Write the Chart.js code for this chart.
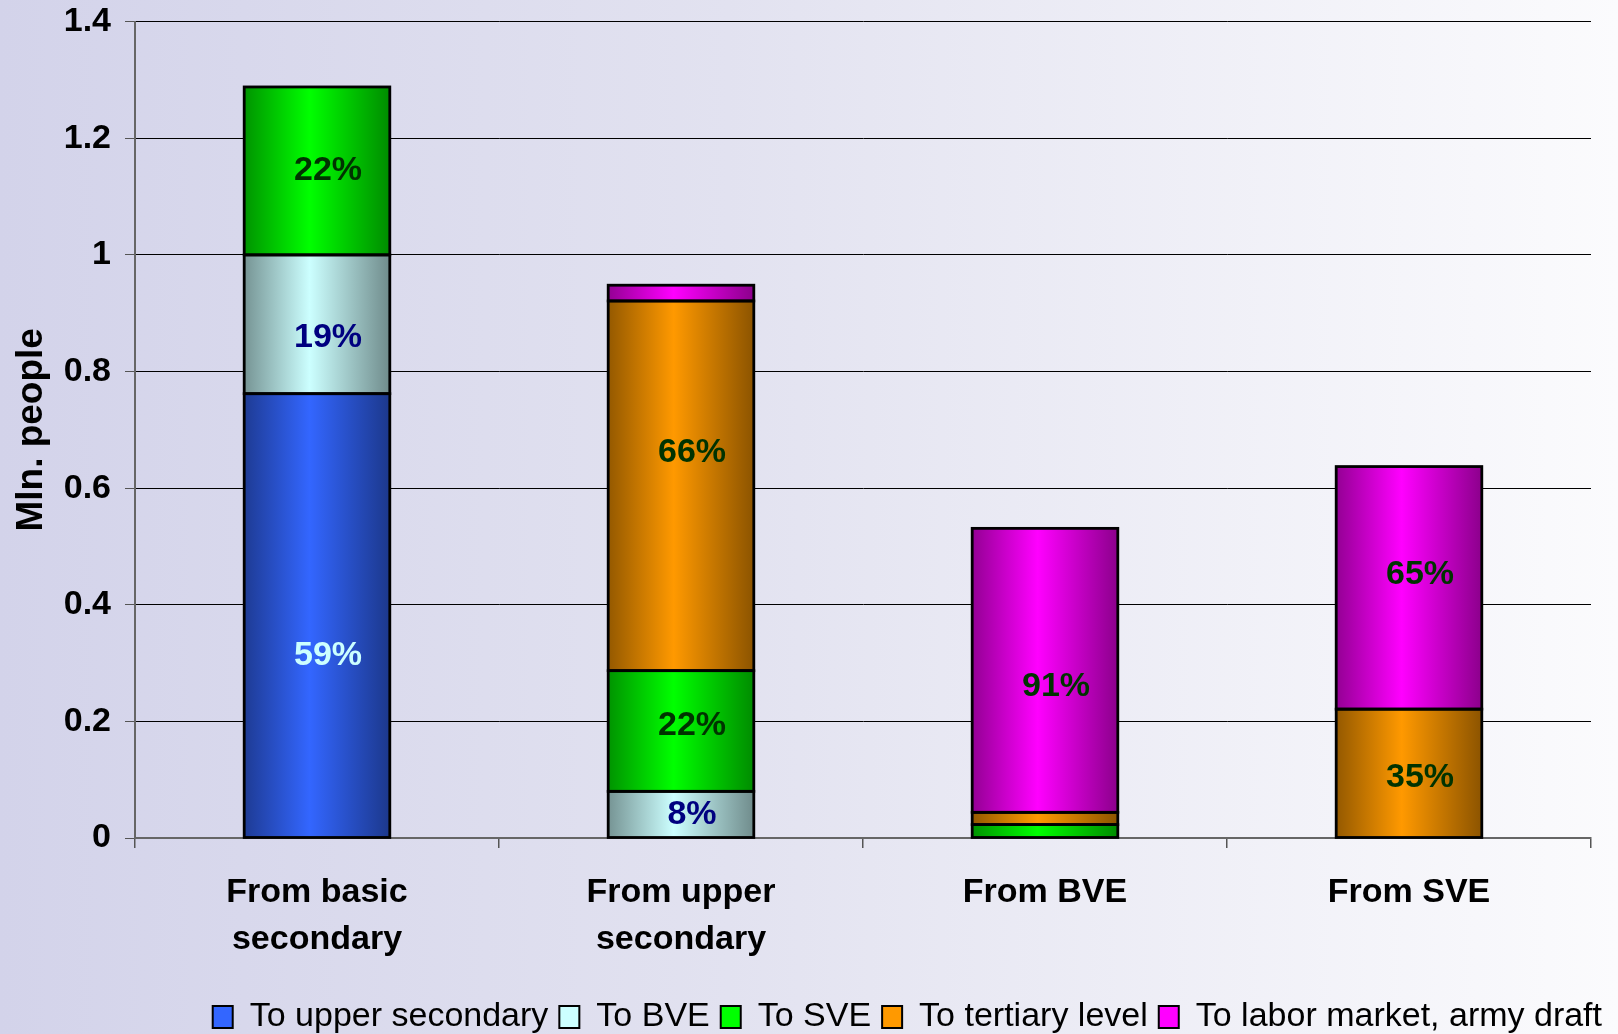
<!DOCTYPE html>
<html>
<head>
<meta charset="utf-8">
<script src="https://cdn.jsdelivr.net/npm/chart.js@4.4.1/dist/chart.umd.min.js"></script>
<style>
  html, body { margin: 0; padding: 0; }
  #wrap {
    width: 1618px;
    height: 1034px;
    background: linear-gradient(to right, #d3d3ea 0%, #e2e2f0 45%, #fbfbfd 100%);
  }
</style>
</head>
<body>
<div id="wrap"><canvas id="flowChart" width="1618" height="1034"></canvas></div>
<script>
// categories on the x axis
const categories = [["From basic", "secondary"], ["From upper", "secondary"], "From BVE", "From SVE"];

// series names (stack order, bottom to top)
const seriesNames = ["To upper secondary", "To BVE", "To SVE", "To tertiary level", "To labor market, army draft"];

// values, mln. people (null = no segment)
const toUpperSecondary = [0.762, null, null, null];
const toBVE = [0.238, 0.080, null, null];
const toSVE = [0.288, 0.207, 0.023, null];
const toTertiary = [null, 0.634, 0.021, 0.221];
const toLabor = [null, 0.027, 0.487, 0.416];

// percentage labels shown inside segments
const pctUpperSecondary = ["59%", null, null, null];
const pctBVE = ["19%", "8%", null, null];
const pctSVE = ["22%", "22%", null, null];
const pctTertiary = [null, "66%", null, "35%"];
const pctLabor = [null, null, "91%", "65%"];

// y ticks
const yMax = 1.4;
const yStep = 0.2;

const FONT = '"Liberation Sans", Arial, Helvetica, sans-serif';
const seriesColors = ["#3366ff", "#ccffff", "#00ff00", "#ff9900", "#ff00ff"];
const labelColors = ["#ccffff", "#000080", "#003300", "#003300", "#003300"];
const BAR_SHARE = 0.4;

// darken a hex colour
function shade(hex, f) {
  const n = parseInt(hex.slice(1), 16);
  const r = Math.round(((n >> 16) & 255) * f);
  const g = Math.round(((n >> 8) & 255) * f);
  const b = Math.round((n & 255) * f);
  return `rgb(${r},${g},${b})`;
}

// horizontal "cylinder" gradient for each bar
function barFill(color) {
  return (ctx) => {
    const chart = ctx.chart;
    const sx = chart.scales && chart.scales.x;
    if (!chart.chartArea || !sx) return color;
    const x = sx.getPixelForValue(ctx.dataIndex);
    const half = (sx.width / categories.length) * BAR_SHARE / 2;
    const g = chart.ctx.createLinearGradient(x - half, 0, x + half, 0);
    g.addColorStop(0, shade(color, 0.58));
    g.addColorStop(0.45, color);
    g.addColorStop(1, shade(color, 0.55));
    return g;
  };
}

const seriesValues = [toUpperSecondary, toBVE, toSVE, toTertiary, toLabor];
const seriesPct = [pctUpperSecondary, pctBVE, pctSVE, pctTertiary, pctLabor];

// small vertical nudges for the labels (px), as placed in the original
const labelNudge = { "0:0": 40, "1:0": 13, "3:1": -33, "2:1": -5, "4:2": 16, "4:3": -13, "3:3": 4 };

// black outline centred on every segment edge, then the % labels
const segmentLabels = {
  id: "segmentLabels",
  afterDatasetsDraw(chart) {
    const c = chart.ctx;
    c.save();
    c.strokeStyle = "#000";
    c.lineWidth = 2.8;
    chart.data.datasets.forEach((ds, di) => {
      chart.getDatasetMeta(di).data.forEach((bar) => {
        if (bar.y == null || isNaN(bar.y) || bar.y === bar.base) return;
        c.strokeRect(bar.x - bar.width / 2, bar.y, bar.width, bar.base - bar.y);
      });
    });
    c.font = "bold 34px " + FONT;
    c.textAlign = "center";
    c.textBaseline = "middle";
    chart.data.datasets.forEach((ds, di) => {
      const meta = chart.getDatasetMeta(di);
      meta.data.forEach((bar, i) => {
        const txt = ds.pct[i];
        if (!txt) return;
        c.fillStyle = ds.pctColor;
        const dy = labelNudge[di + ":" + i] || 0;
        c.fillText(txt, bar.x + 11, (bar.y + bar.base) / 2 + dy);
      });
    });
    c.restore();
  }
};

const datasets = seriesNames.map((name, i) => ({
  label: name,
  data: seriesValues[i],
  pct: seriesPct[i],
  pctColor: labelColors[i],
  backgroundColor: barFill(seriesColors[i]),
  borderWidth: 0,
  barPercentage: BAR_SHARE,
  categoryPercentage: 1
}));

new Chart(document.getElementById("flowChart"), {
  type: "bar",
  data: { labels: categories, datasets },
  plugins: [segmentLabels],
  options: {
    responsive: false,
    devicePixelRatio: 1,
    animation: false,
    layout: { padding: { top: 0, left: 0, right: 5, bottom: -10 } },
    plugins: {
      tooltip: { enabled: false },
      legend: {
        position: "bottom",
        align: "end",
        labels: {
          color: "#000",
          font: { family: FONT, size: 34 },
          boxWidth: 20,
          boxHeight: 22,
          padding: 11,
          generateLabels: (chart) => chart.data.datasets.map((ds, i) => ({
            text: ds.label,
            fillStyle: seriesColors[i],
            strokeStyle: "#000",
            lineWidth: 2,
            datasetIndex: i
          }))
        }
      }
    },
    scales: {
      x: {
        stacked: true,
        grid: { display: true, drawOnChartArea: false, offset: true, tickLength: 10, color: "#555", lineWidth: 1.5 },
        border: { display: true, color: "#666", width: 2 },
        ticks: {
          color: "#000",
          padding: 22,
          font: { family: FONT, size: 34, weight: "bold", lineHeight: 1.36 }
        },
        afterFit: (s) => { s.height = 151; }
      },
      y: {
        stacked: true,
        min: 0,
        max: yMax,
        grid: { color: "#000", lineWidth: 1, tickLength: 10, tickColor: "#555" },
        border: { display: true, color: "#666", width: 2 },
        ticks: {
          stepSize: yStep,
          color: "#000",
          padding: 14,
          font: { family: FONT, size: 34, weight: "bold", lineHeight: 0.45 },
          callback: (v) => String(+v.toFixed(1))
        },
        title: {
          display: true,
          text: "Mln. people",
          color: "#000",
          font: { family: FONT, size: 37, weight: "bold" },
          padding: { top: 10, bottom: 0 }
        },
        afterFit: (s) => { s.width = 135; }
      },
      pad: {
        position: "right",
        display: true,
        grid: { display: false },
        border: { display: false },
        ticks: { display: false },
        afterFit: (s) => { s.width = 22; }
      }
    }
  }
});
</script>
</body>
</html>
